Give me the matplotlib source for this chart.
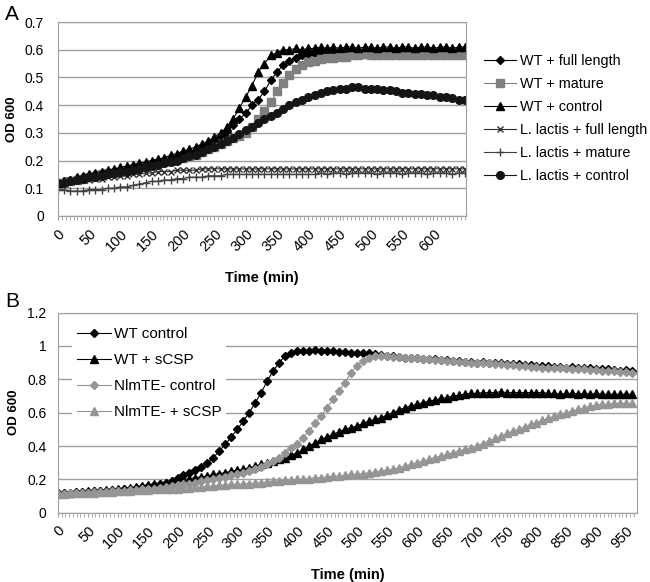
import numpy as np
import matplotlib
matplotlib.use("Agg")
import matplotlib.pyplot as plt
from matplotlib.ticker import MultipleLocator, FixedLocator

plt.rcParams['font.family'] = ['Liberation Sans', 'DejaVu Sans']

# panel A, readings every 10 min from 0 to 650
time_a = np.arange(0, 660, 10)

wt_full = [0.12, 0.125, 0.13, 0.135, 0.14, 0.145, 0.15, 0.155, 0.16, 0.16,
           0.165, 0.17, 0.175, 0.18, 0.185, 0.19, 0.195, 0.2, 0.205, 0.21,
           0.22, 0.225, 0.235, 0.245, 0.255, 0.27, 0.285, 0.3, 0.33, 0.35,
           0.37, 0.4, 0.42, 0.45, 0.49, 0.52, 0.545, 0.56, 0.57, 0.58,
           0.585, 0.585, 0.59, 0.59, 0.59, 0.595, 0.595, 0.595, 0.595, 0.6,
           0.6, 0.6, 0.6, 0.6, 0.6, 0.6, 0.6, 0.6, 0.6, 0.6,
           0.6, 0.6, 0.6, 0.6, 0.6, 0.6]
wt_mature = [0.12, 0.12, 0.125, 0.13, 0.135, 0.14, 0.145, 0.15, 0.155, 0.155,
             0.16, 0.165, 0.17, 0.175, 0.18, 0.185, 0.19, 0.195, 0.2, 0.205,
             0.21, 0.215, 0.22, 0.23, 0.24, 0.25, 0.26, 0.27, 0.28, 0.29,
             0.3, 0.32, 0.35, 0.38, 0.41, 0.45, 0.48, 0.51, 0.53, 0.545,
             0.555, 0.56, 0.565, 0.57, 0.57, 0.575, 0.575, 0.58, 0.58, 0.585,
             0.58, 0.58, 0.58, 0.58, 0.58, 0.58, 0.58, 0.58, 0.58, 0.58,
             0.58, 0.58, 0.58, 0.58, 0.58, 0.58]
wt_control = [0.12, 0.125, 0.13, 0.14, 0.145, 0.15, 0.155, 0.16, 0.165, 0.17,
              0.175, 0.18, 0.185, 0.19, 0.195, 0.2, 0.205, 0.21, 0.22, 0.225,
              0.235, 0.24, 0.25, 0.26, 0.27, 0.285, 0.3, 0.32, 0.35, 0.39,
              0.43, 0.47, 0.52, 0.55, 0.58, 0.59, 0.6, 0.6, 0.605, 0.6,
              0.605, 0.605, 0.61, 0.605, 0.61, 0.605, 0.61, 0.61, 0.605, 0.61,
              0.61, 0.605, 0.61, 0.61, 0.605, 0.61, 0.61, 0.605, 0.61, 0.61,
              0.605, 0.61, 0.61, 0.605, 0.61, 0.61]
ll_full = [0.12, 0.12, 0.125, 0.125, 0.13, 0.13, 0.135, 0.135, 0.14, 0.14,
           0.145, 0.145, 0.15, 0.15, 0.155, 0.155, 0.16, 0.16, 0.16, 0.165,
           0.165, 0.165, 0.165, 0.17, 0.17, 0.17, 0.17, 0.17, 0.17, 0.17,
           0.17, 0.17, 0.17, 0.17, 0.17, 0.17, 0.17, 0.17, 0.17, 0.17,
           0.17, 0.17, 0.17, 0.17, 0.17, 0.17, 0.17, 0.17, 0.17, 0.17,
           0.17, 0.17, 0.17, 0.17, 0.17, 0.17, 0.17, 0.17, 0.17, 0.17,
           0.17, 0.17, 0.17, 0.17, 0.17, 0.17]
ll_mature = [0.095, 0.095, 0.09, 0.09, 0.09, 0.095, 0.095, 0.095, 0.1, 0.1,
             0.105, 0.105, 0.11, 0.115, 0.12, 0.125, 0.125, 0.13, 0.13, 0.135,
             0.135, 0.14, 0.14, 0.14, 0.145, 0.145, 0.145, 0.15, 0.15, 0.15,
             0.15, 0.15, 0.15, 0.15, 0.15, 0.15, 0.15, 0.15, 0.15, 0.15,
             0.15, 0.15, 0.155, 0.15, 0.155, 0.155, 0.15, 0.155, 0.155, 0.155,
             0.155, 0.15, 0.155, 0.155, 0.155, 0.15, 0.155, 0.155, 0.155, 0.15,
             0.155, 0.155, 0.155, 0.15, 0.155, 0.155]
ll_control = [0.12, 0.12, 0.125, 0.13, 0.135, 0.14, 0.14, 0.145, 0.15, 0.155,
              0.16, 0.16, 0.165, 0.17, 0.175, 0.18, 0.185, 0.19, 0.195, 0.2,
              0.21, 0.215, 0.22, 0.23, 0.24, 0.25, 0.26, 0.27, 0.28, 0.295,
              0.31, 0.32, 0.335, 0.35, 0.36, 0.37, 0.385, 0.4, 0.41, 0.42,
              0.43, 0.435, 0.445, 0.45, 0.455, 0.46, 0.46, 0.465, 0.465, 0.46,
              0.46, 0.46, 0.455, 0.455, 0.45, 0.445, 0.445, 0.44, 0.44, 0.435,
              0.435, 0.43, 0.43, 0.425, 0.42, 0.42]

# panel B, readings every 10 min from 0 to 960
time_b = np.arange(0, 970, 10)

wt_ctrl_b = [0.12, 0.12, 0.12, 0.125, 0.125, 0.125, 0.13, 0.13, 0.13, 0.135,
             0.135, 0.14, 0.145, 0.15, 0.155, 0.16, 0.165, 0.17, 0.18, 0.19,
             0.21, 0.225, 0.24, 0.255, 0.275, 0.3, 0.33, 0.37, 0.41, 0.455,
             0.5, 0.55, 0.6, 0.66, 0.72, 0.79, 0.85, 0.9, 0.94, 0.96,
             0.97, 0.97, 0.97, 0.975, 0.97, 0.97, 0.97, 0.965, 0.965, 0.96,
             0.96, 0.955, 0.955, 0.95, 0.945, 0.94, 0.94, 0.935, 0.93, 0.93,
             0.925, 0.92, 0.92, 0.92, 0.915, 0.915, 0.91, 0.91, 0.905, 0.905,
             0.9, 0.905, 0.9, 0.895, 0.895, 0.89, 0.89, 0.89, 0.885, 0.885,
             0.88, 0.88, 0.88, 0.875, 0.875, 0.87, 0.875, 0.87, 0.865, 0.865,
             0.86, 0.86, 0.86, 0.855, 0.85, 0.855, 0.85]
wt_scsp_b = [0.12, 0.12, 0.12, 0.125, 0.125, 0.13, 0.13, 0.13, 0.135, 0.135,
             0.14, 0.145, 0.15, 0.155, 0.16, 0.165, 0.17, 0.175, 0.18, 0.19,
             0.195, 0.2, 0.205, 0.21, 0.215, 0.22, 0.23, 0.235, 0.24, 0.25,
             0.255, 0.26, 0.27, 0.28, 0.29, 0.3, 0.31, 0.32, 0.33, 0.345,
             0.36, 0.38, 0.4, 0.42, 0.44, 0.455, 0.47, 0.485, 0.5, 0.51,
             0.52, 0.535, 0.55, 0.56, 0.57, 0.585, 0.6, 0.615, 0.63, 0.64,
             0.65, 0.66, 0.67, 0.675, 0.685, 0.69, 0.7, 0.705, 0.71, 0.715,
             0.715, 0.72, 0.72, 0.72, 0.725, 0.72, 0.72, 0.72, 0.72, 0.72,
             0.72, 0.72, 0.715, 0.715, 0.71, 0.715, 0.715, 0.71, 0.715, 0.71,
             0.715, 0.71, 0.71, 0.71, 0.71, 0.71, 0.71]
nlm_ctrl_b = [0.115, 0.115, 0.12, 0.12, 0.12, 0.12, 0.125, 0.125, 0.125, 0.13,
              0.13, 0.13, 0.135, 0.135, 0.14, 0.14, 0.145, 0.15, 0.155, 0.16,
              0.165, 0.17, 0.175, 0.18, 0.19, 0.195, 0.2, 0.21, 0.215, 0.225,
              0.23, 0.24, 0.25, 0.26, 0.275, 0.29, 0.31, 0.33, 0.36, 0.39,
              0.41, 0.45, 0.49, 0.54, 0.58, 0.63, 0.68, 0.73, 0.78, 0.84,
              0.88, 0.91, 0.93, 0.94, 0.94, 0.94, 0.935, 0.935, 0.93, 0.93,
              0.925, 0.92, 0.92, 0.915, 0.915, 0.91, 0.91, 0.905, 0.905, 0.9,
              0.9, 0.895, 0.895, 0.89, 0.89, 0.885, 0.885, 0.88, 0.88, 0.875,
              0.875, 0.87, 0.87, 0.87, 0.865, 0.865, 0.86, 0.86, 0.86, 0.855,
              0.855, 0.85, 0.85, 0.85, 0.845, 0.845, 0.84]
nlm_scsp_b = [0.115, 0.115, 0.12, 0.12, 0.12, 0.12, 0.12, 0.125, 0.125, 0.125,
              0.13, 0.13, 0.13, 0.135, 0.135, 0.135, 0.14, 0.14, 0.14, 0.145,
              0.145, 0.15, 0.15, 0.155, 0.155, 0.16, 0.16, 0.165, 0.165, 0.17,
              0.17, 0.175, 0.175, 0.18, 0.18, 0.185, 0.19, 0.19, 0.195, 0.195,
              0.2, 0.2, 0.205, 0.21, 0.21, 0.215, 0.22, 0.22, 0.225, 0.23,
              0.23, 0.235, 0.24, 0.245, 0.25, 0.255, 0.26, 0.27, 0.28, 0.29,
              0.3, 0.31, 0.32, 0.33, 0.34, 0.35, 0.36, 0.37, 0.38, 0.39,
              0.4, 0.415, 0.43, 0.445, 0.46, 0.475, 0.49, 0.5, 0.515, 0.53,
              0.54, 0.555, 0.565, 0.58, 0.59, 0.6, 0.61, 0.62, 0.63, 0.64,
              0.645, 0.65, 0.65, 0.655, 0.655, 0.655, 0.655]

labels_a = ['WT + full length', 'WT + mature', 'WT + control',
            'L. lactis + full length', 'L. lactis + mature', 'L. lactis + control']
labels_b = ['WT control', 'WT + sCSP', 'NlmTE- control', 'NlmTE- + sCSP']
yticks_a = ['0', '0.1', '0.2', '0.3', '0.4', '0.5', '0.6', '0.7']
yticks_b = ['0', '0.2', '0.4', '0.6', '0.8', '1', '1.2']

GRAY_A = '#7f7f7f'
GRAY_B = '#959595'


def style_axis(ax, xmax, last_label, yvals, ylabels, ypad):
    ax.set_xlim(0, xmax)
    ax.set_ylim(0, yvals[-1])
    ax.set_yticks(yvals)
    ax.set_yticklabels(ylabels)
    xt = np.arange(0, last_label + 1, 50)
    ax.xaxis.set_major_locator(FixedLocator(xt))
    ax.set_xticklabels([str(v) for v in xt])
    ax.xaxis.set_minor_locator(MultipleLocator(6.25))
    ax.grid(axis='y', color='#a0a0a0', linewidth=1)
    ax.set_axisbelow(True)
    for s in ax.spines.values():
        s.set_color('#a0a0a0')
    ax.tick_params(axis='y', length=0, labelsize=10, pad=ypad)
    ax.tick_params(axis='x', which='both', direction='out', length=3,
                   color='#a0a0a0', labelsize=10.5, pad=5)
    for lbl in ax.get_xticklabels():
        lbl.set_rotation(45)
        lbl.set_ha('right')
        lbl.set_rotation_mode('anchor')
    ax.set_ylabel('OD 600', fontsize=9.5, fontweight='bold', labelpad=5)
    ax.set_xlabel('Time (min)', fontsize=10.5, fontweight='bold', labelpad=12)


fig = plt.figure(figsize=(6.5, 5.82), dpi=100)
axA = fig.add_axes([0.089, 0.629, 0.628, 0.333])
axB = fig.add_axes([0.089, 0.119, 0.891, 0.344])

axA.plot(time_a, wt_full, '-D', color='black', lw=0.8, ms=4.3, label=labels_a[0])
axA.plot(time_a, wt_mature, '-s', color=GRAY_A, lw=0.8, ms=5.2, label=labels_a[1])
axA.plot(time_a, wt_control, '-^', color='black', lw=0.8, ms=5.8, label=labels_a[2])
axA.plot(time_a, ll_full, '-x', color='#303030', lw=0.8, ms=5, mew=1, label=labels_a[3])
axA.plot(time_a, ll_mature, '-+', color='#404040', lw=0.8, ms=6, mew=1, label=labels_a[4])
axA.plot(time_a, ll_control, '-o', color='#151515', lw=0.8, ms=5.5, label=labels_a[5])

style_axis(axA, 652, 600, np.arange(0, 0.75, 0.1), yticks_a, 10)
axA.legend(loc='upper left', bbox_to_anchor=(1.045, 0.835), frameon=False,
           fontsize=10.4, borderpad=0, handlelength=2.2, handletextpad=0.25,
           labelspacing=0.62, borderaxespad=0)

axB.plot(time_b, wt_ctrl_b, '-D', color='black', lw=0.8, ms=4.2, label=labels_b[0])
axB.plot(time_b, wt_scsp_b, '-^', color='black', lw=0.8, ms=5.5, label=labels_b[1])
axB.plot(time_b, nlm_ctrl_b, '-D', color=GRAY_B, lw=0.8, ms=4.2, label=labels_b[2])
axB.plot(time_b, nlm_scsp_b, '-^', color=GRAY_B, lw=0.8, ms=5.5, label=labels_b[3])

style_axis(axB, 968, 950, np.arange(0, 1.25, 0.2), yticks_b, 8)
leg = axB.legend(loc='upper left', bbox_to_anchor=(0.025, 0.95), frameon=True,
                 fontsize=11, borderpad=0.3, handlelength=2.2, handletextpad=0.2,
                 labelspacing=0.78, borderaxespad=0, fancybox=False)
leg.get_frame().set_facecolor('white')
leg.get_frame().set_edgecolor('none')
leg.get_frame().set_alpha(1)

fig.text(0.008, 0.975, 'A', fontsize=15, va='center', ha='left')
fig.text(0.008, 0.482, 'B', fontsize=15, va='center', ha='left')

fig.savefig('out.png', dpi=100)
